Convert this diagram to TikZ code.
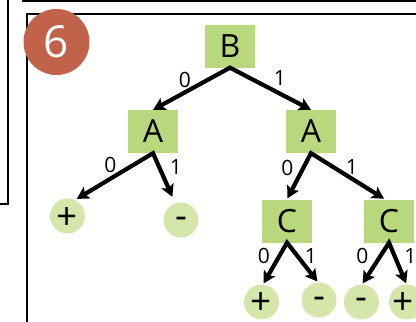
\documentclass[tikz,border=0pt]{standalone}
\usepackage{fontspec}
\setmainfont{Open Sans}
\usetikzlibrary{arrows.meta}
\definecolor{boxgreen}{RGB}{185,215,125}
\definecolor{leafgreen}{RGB}{212,230,169}
\definecolor{badgered}{RGB}{192,99,74}
\begin{document}
\begin{tikzpicture}[x=1pt,y=-1pt,
  inode/.style={fill=boxgreen, minimum width=50pt, minimum height=43pt, inner sep=0pt, font=\fontsize{32}{38}\selectfont},
  leaf/.style={circle, fill=leafgreen, minimum size=35pt, inner sep=0pt},
  leaftext/.style={font=\fontsize{37}{42}\selectfont, inner sep=0pt},
  bit/.style={font=\fontsize{21}{25}\selectfont, inner sep=0pt},
  pair/.style={line width=4.2pt, line join=miter, {Stealth[length=12pt,width=13pt,inset=2.5pt]}-{Stealth[length=12pt,width=13pt,inset=2.5pt]}},
  frameline/.style={line width=2pt}]
\useasboundingbox (0,0) rectangle (416,322);
\clip (0,0) rectangle (416,322);
% frames
\draw[frameline] (-5,204) -- (8.3,204) -- (8.3,-5);
\draw[frameline] (23,-5) -- (23,1.3) -- (425,1.3);
\draw[frameline] (27,330) -- (27,14) -- (425,14);
% badge
\node[circle, fill=badgered, minimum size=66pt, inner sep=0pt, text=white, font=\fontsize{44}{50}\selectfont] (badge) at (56.5,42) {6};
% inner nodes
\node[inode] (B) at (230,46) {B};
\node[inode] (A1) at (153,131.5) {A};
\node[inode] (A2) at (311,131.5) {A};
\node[inode] (C1) at (287,221) {C};
\node[inode] (C2) at (389,221) {C};
% leaves
\node[leaf] (l1) at (67.5,216) {};
\node[leaf] (l2) at (181,220) {};
\node[leaf] (l3) at (261.5,302) {};
\node[leaf] (l4) at (319,300) {};
\node[leaf] (l5) at (361.5,302) {};
\node[leaf] (l6) at (406.5,302) {};
\node[leaftext] (t1) at (67.5,218) {+};
\node[leaftext] (t2) at (181,222.5) {-};
\node[leaftext] (t3) at (261.5,303.5) {+};
\node[leaftext] (t4) at (319,302.5) {-};
\node[leaftext] (t5) at (361.5,304) {-};
\node[leaftext] (t6) at (403.5,303.5) {+};
% edges
\draw[pair] (A1.north) -- (B.south) -- (A2.north);
\draw[pair, shorten <=2pt, shorten >=7pt] (l1.65) -- (A1.south) -- (l2.109);
\draw[pair, shorten <=1pt, shorten >=1pt] (C1.north) -- (A2.south) -- ([xshift=-4pt]C2.north);
\draw[pair, shorten <=1pt, shorten >=1pt] (l3.85) -- (C1.south) -- (l4.93);
\draw[pair, shorten <=1pt, shorten >=1pt] (l5.88) -- (C2.south) -- (l6.90);
% bit labels
\node[bit] (b1) at (185,80) {0};
\node[bit] (b2) at (280,78) {1};
\node[bit] (b3) at (110.5,164.5) {0};
\node[bit] (b4) at (176,167) {1};
\node[bit] (b5) at (287.5,167.5) {0};
\node[bit] (b6) at (352,167.5) {1};
\node[bit] (b7) at (264,256) {0};
\node[bit] (b8) at (311,256) {1};
\node[bit] (b9) at (362.5,256) {0};
\node[bit] (b10) at (410.5,256) {1};
\end{tikzpicture}
\end{document}
